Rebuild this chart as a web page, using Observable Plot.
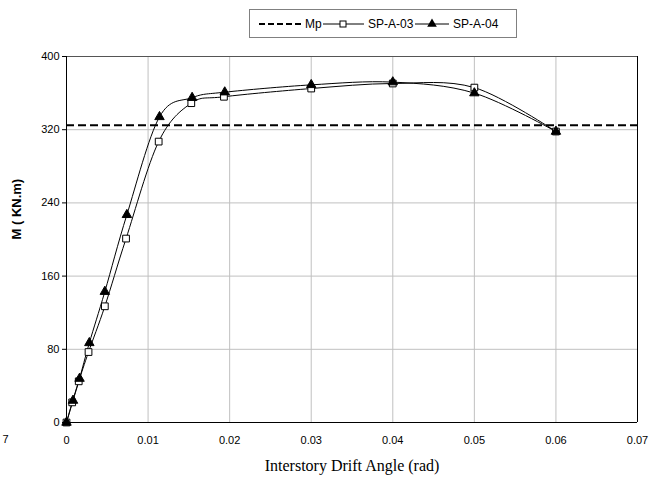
<!DOCTYPE html>
<html>
<head>
<meta charset="utf-8">
<script src="https://cdn.jsdelivr.net/npm/d3@7"></script>
<script src="https://cdn.jsdelivr.net/npm/@observablehq/plot@0.6"></script>
<style>
  html, body { margin: 0; padding: 0; background: #fff; }
  #wrap { position: relative; width: 651px; height: 487px; }
  #legend {
    position: absolute; left: 249px; top: 9px; width: 268px; height: 29px;
    border: 1px solid #808080; background: #fff; box-sizing: border-box;
    font-family: 'Liberation Sans', Arial, sans-serif; font-size: 12px; color: #000;
  }
  #legend svg { position: absolute; left: 0; top: 0; }
  #chart { position: absolute; left: 0; top: 0; }
</style>
</head>
<body>
<div id="wrap">
  <div id="chart"></div>
  <div id="legend"></div>
</div>
<script>
// ---- data ----
const seriesNames = ["Mp", "SP-A-03", "SP-A-04"];
const mp = 325;
const drift03 = [0, 0.0007, 0.0015, 0.0027, 0.0047, 0.0073, 0.0113, 0.0153, 0.0193, 0.03, 0.04, 0.05, 0.06];
const moment03 = [0, 22, 45, 77, 127, 201, 307, 349, 356, 365, 370.5, 366, 318];
const drift04 = [0, 0.0008, 0.0016, 0.0028, 0.0047, 0.0074, 0.0114, 0.0154, 0.0194, 0.03, 0.04, 0.05, 0.06];
const moment04 = [0, 24, 48, 87, 143, 227, 334, 355, 361, 369, 372, 360, 318];
const xTicks = [0, 0.01, 0.02, 0.03, 0.04, 0.05, 0.06, 0.07];
const xTickLabels = ["0", "0.01", "0.02", "0.03", "0.04", "0.05", "0.06", "0.07"];
const yTicks = [0, 80, 160, 240, 320, 400];
const xLabel = "Interstory Drift Angle (rad)";
const yLabel = "M ( KN.m)";

const s03 = drift03.map((x, i) => ({x, y: moment03[i]}));
const s04 = drift04.map((x, i) => ({x, y: moment04[i]}));

const chart = Plot.plot({
  width: 651,
  height: 487,
  marginLeft: 66,
  marginRight: 14,
  marginTop: 56,
  marginBottom: 65,
  x: {domain: [0, 0.07]},
  y: {domain: [0, 400]},
  style: {fontFamily: "'Liberation Sans', Arial, sans-serif", fontSize: "11px", color: "#000", background: "transparent"},
  marks: [
    Plot.ruleX(xTicks.slice(1, -1), {stroke: "#c0c0c0"}),
    Plot.ruleY(yTicks.slice(1, -1), {stroke: "#c0c0c0"}),
    Plot.ruleY([400], {stroke: "#555"}),
    Plot.ruleX([0.07], {stroke: "#000"}),
    Plot.ruleY([mp], {stroke: "#000", strokeWidth: 2, strokeDasharray: "8,4"}),
    Plot.line(s03, {x: "x", y: "y", curve: "cardinal", stroke: "#000", strokeWidth: 1}),
    Plot.line(s04, {x: "x", y: "y", curve: "cardinal", stroke: "#000", strokeWidth: 1}),
    Plot.ruleX([0], {stroke: "#000"}),
    Plot.ruleY([0], {stroke: "#000"}),
    Plot.dot(s03, {x: "x", y: "y", symbol: "square", r: 3.8, fill: "white", stroke: "#000", strokeWidth: 1}),
    Plot.dot(s04, {x: "x", y: "y", symbol: "triangle", r: 3.5, fill: "#000", stroke: "#000", strokeWidth: 1}),
    Plot.axisY({ticks: yTicks, tickSize: 4, tickPadding: 3, label: null}),
    Plot.axisX({ticks: xTicks, tickSize: 0, tickPadding: 14, tickFormat: d => xTickLabels[xTicks.indexOf(d)], label: null}),
    Plot.text([yLabel], {frameAnchor: "left", dx: -50, rotate: -90, fontWeight: "bold", fontSize: 13}),
    Plot.text([xLabel], {frameAnchor: "bottom", dy: 48, fontFamily: "'Liberation Serif', 'Times New Roman', serif", fontSize: 16}),
    Plot.text(["7"], {frameAnchor: "bottom-left", dx: -64, dy: 20, textAnchor: "start", fontSize: 11})
  ]
});
document.getElementById("chart").appendChild(chart);

// ---- legend ----
const lg = d3.select("#legend").append("svg").attr("width", 268).attr("height", 29);
const cy = 14;
// Mp
lg.append("line").attr("x1", 9).attr("x2", 51).attr("y1", cy).attr("y2", cy)
  .attr("stroke", "#000").attr("stroke-width", 2).attr("stroke-dasharray", "6,3");
lg.append("text").attr("x", 55).attr("y", cy).attr("dy", "0.35em").text(seriesNames[0])
  .attr("font-family", "'Liberation Sans', Arial, sans-serif").attr("font-size", 12);
// SP-A-03
lg.append("line").attr("x1", 73).attr("x2", 114).attr("y1", cy).attr("y2", cy).attr("stroke", "#000");
lg.append("rect").attr("x", 90).attr("y", cy - 3).attr("width", 6).attr("height", 6)
  .attr("fill", "#fff").attr("stroke", "#000");
lg.append("text").attr("x", 118).attr("y", cy).attr("dy", "0.35em").text(seriesNames[1])
  .attr("font-family", "'Liberation Sans', Arial, sans-serif").attr("font-size", 12);
// SP-A-04
lg.append("line").attr("x1", 165).attr("x2", 199).attr("y1", cy).attr("y2", cy).attr("stroke", "#000");
lg.append("path").attr("d", d3.symbol(d3.symbolTriangle, 40)()).attr("transform", `translate(182,${cy})`)
  .attr("fill", "#000");
lg.append("text").attr("x", 203).attr("y", cy).attr("dy", "0.35em").text(seriesNames[2])
  .attr("font-family", "'Liberation Sans', Arial, sans-serif").attr("font-size", 12);
</script>
</body>
</html>
